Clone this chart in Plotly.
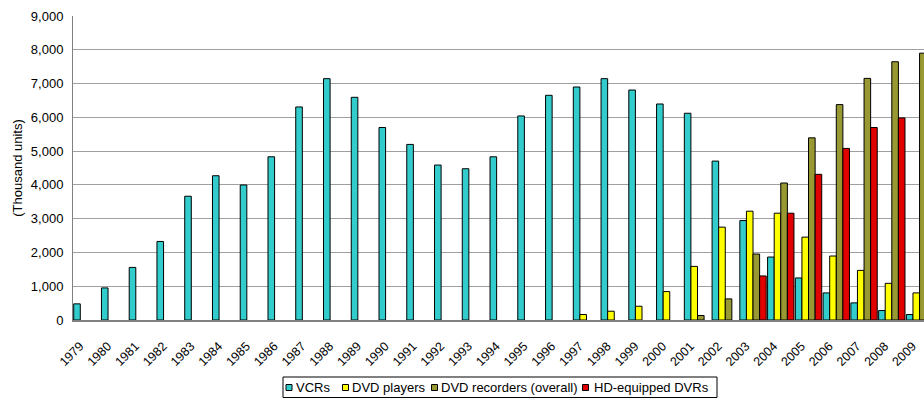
import plotly.graph_objects as go

# Annual domestic shipments, thousand units
years = [str(y) for y in range(1979, 2010)]

vcrs = [478, 950, 1557, 2325, 3664, 4271, 3997, 4832, 6307, 7145,
        6593, 5699, 5198, 4587, 4478, 4832, 6041, 6652, 6897, 7145,
        6808, 6395, 6121, 4705, 2944, 1864, 1245, 802, 507, 280, 162]

dvd_players = [None] * 18 + [162, 260, 407, 841, 1587, 2749, 3221, 3162,
                             2454, 1894, 1469, 1086, 802]

dvd_recorders = [None] * 22 + [133, 625, 1953, 4056, 5393, 6377, 7153, 7646, 7900]

hd_dvrs = [None] * 24 + [1304, 3162, 4313, 5080, 5699, 5982, None]

series_names = ["VCRs", "DVD players", "DVD recorders (overall)", "HD-equipped DVRs"]
series_values = [vcrs, dvd_players, dvd_recorders, hd_dvrs]
series_colors = ["#33CCCC", "#FFFF00", "#999933", "#E00000"]

W, H = 924, 398
ML, MR, MT, MB = 73, 0, 16, 78
FONT = "Arial, Liberation Sans, sans-serif"

fig = go.Figure()
for name, vals, color in zip(series_names, series_values, series_colors):
    fig.add_trace(go.Bar(
        x=years, y=vals, name=name,
        marker=dict(color=color, line=dict(color="#000000", width=1)),
        showlegend=False,
    ))

# pixel -> paper helpers for the boxed legend under the chart
pw, ph = W - ML - MR, H - MT - MB


def px(x):
    return (x - ML) / pw


def py(y):
    return (H - MB - y) / ph


shapes = [dict(type="rect", xref="paper", yref="paper",
               x0=px(283), x1=px(717), y0=py(397.5), y1=py(377),
               line=dict(color="#000000", width=1), fillcolor="#FFFFFF")]
annotations = []
marker_x = [286, 342.5, 431.5, 582.5]
text_x = [294, 350, 439, 592]
for name, color, mx, tx in zip(series_names, series_colors, marker_x, text_x):
    shapes.append(dict(type="rect", xref="paper", yref="paper",
                       x0=px(mx), x1=px(mx + 6), y0=py(390.5), y1=py(384.5),
                       line=dict(color="#000000", width=1), fillcolor=color))
    annotations.append(dict(xref="paper", yref="paper", x=px(tx), y=py(387.5),
                            text=name, showarrow=False, xanchor="left",
                            yanchor="middle", font=dict(size=13, color="#000000")))

fig.update_layout(
    width=W, height=H,
    margin=dict(l=ML, r=MR, t=MT, b=MB),
    paper_bgcolor="#FFFFFF", plot_bgcolor="#FFFFFF",
    font=dict(family=FONT, size=13, color="#000000"),
    barmode="group", bargap=0.05, bargroupgap=0,
    shapes=shapes, annotations=annotations,
    showlegend=False,
)
fig.update_xaxes(
    type="category", range=[-0.5, 30.16],
    tickangle=-45, tickfont=dict(size=12.5),
    ticklabelstandoff=12, ticklabelshift=-7,
    showgrid=False, showline=True, linecolor="#808080", linewidth=2,
    ticks="", zeroline=False,
)
fig.update_yaxes(
    range=[0, 9000], dtick=1000, tickformat=",",
    ticklabelstandoff=6,
    showgrid=True, gridcolor="#A0A0A0", gridwidth=1,
    showline=True, linecolor="#808080", linewidth=1,
    ticks="", zeroline=False,
    title=dict(text="(Thousand units)", standoff=5, font=dict(size=13)),
)

fig.write_html("out.html")
